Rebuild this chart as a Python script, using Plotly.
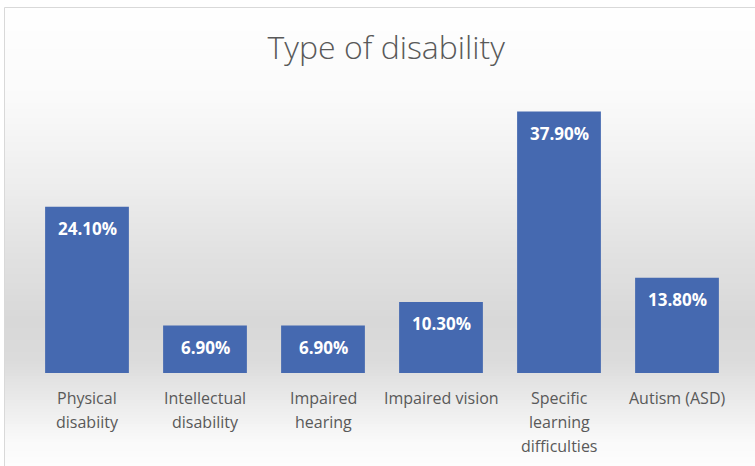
import plotly.graph_objects as go

categories = ["Physical disabiity", "Intellectual disability", "Impaired hearing",
              "Impaired vision", "Specific learning difficulties", "Autism (ASD)"]
tick_labels = [["Physical", "disabiity"], ["Intellectual", "disability"], ["Impaired", "hearing"],
               ["Impaired vision"], ["Specific", "learning", "difficulties"], ["Autism (ASD)"]]
values = [24.1, 6.9, 6.9, 10.3, 37.9, 13.8]
value_labels = ["24.10%", "6.90%", "6.90%", "10.30%", "37.90%", "13.80%"]

W, H = 755, 466
ML, MR, MT, MB = 28, 19, 97, 93
PH = H - MT - MB

FONT = "Open Sans"

fig = go.Figure()
fig.add_trace(go.Bar(
    x=categories, y=values,
    marker=dict(color="#4569b0", line=dict(width=0)),
    width=0.71,
    hoverinfo="skip",
))

annotations = []
# value labels inside bars near top
for c, v, t in zip(categories, values, value_labels):
    annotations.append(dict(x=c, y=v, xref="x", yref="y", text="<b>%s</b>" % t,
                            showarrow=False, yshift=-22, yanchor="middle",
                            font=dict(family=FONT, size=17, color="white")))
# category labels (multi-line) below baseline
for c, lines in zip(categories, tick_labels):
    for i, ln in enumerate(lines):
        annotations.append(dict(x=c, y=0, xref="x", yref="y", text=ln,
                                showarrow=False, yanchor="middle",
                                yshift=-(25 + 24 * i),
                                font=dict(family=FONT, size=16, color="#595959")))

# background gradient (styling)
stops = [(0, 255), (100, 250), (180, 238), (250, 226), (320, 216), (360, 219),
         (400, 234), (440, 249), (466, 253)]

def gray_at(py):
    for (y0, g0), (y1, g1) in zip(stops[:-1], stops[1:]):
        if y0 <= py <= y1:
            return g0 + (g1 - g0) * (py - y0) / (y1 - y0)
    return 255

def to_paper(py):
    return (H - MB - py) / PH

PW = W - ML - MR
shapes = []
step = 3
py = 7
while py < H:
    g = int(round(gray_at(py + step / 2)))
    shapes.append(dict(type="rect", xref="paper", yref="paper",
                       x0=(5 - ML) / PW, x1=(W + 5 - ML) / PW,
                       y0=to_paper(min(py + step, H + 2)), y1=to_paper(py),
                       fillcolor="rgb(%d,%d,%d)" % (g, g, g), line=dict(width=0),
                       layer="below"))
    py += step
# border
shapes.append(dict(type="rect", xref="paper", yref="paper",
                   x0=(4.5 - ML) / PW, x1=(W + 5 - ML) / PW,
                   y0=to_paper(H + 5), y1=to_paper(7.5),
                   fillcolor="rgba(0,0,0,0)", line=dict(color="#d9d9d9", width=1),
                   layer="below"))

fig.update_layout(
    width=W, height=H,
    margin=dict(l=ML, r=MR, t=MT, b=MB),
    paper_bgcolor="white",
    plot_bgcolor="rgba(0,0,0,0)",
    bargap=0.29,
    showlegend=False,
    title=dict(text="Type of disability", x=382 / W, xanchor="center",
               xref="paper",
               y=1 - 48 / H, yanchor="middle",
               font=dict(family=FONT, size=32, color="#595959", weight=300)),
    xaxis=dict(showticklabels=False, showline=False, showgrid=False, ticks="",
               zeroline=False, fixedrange=True),
    yaxis=dict(range=[0, 40], visible=False, showgrid=False, zeroline=False,
               fixedrange=True),
    shapes=shapes,
    annotations=annotations,
)

fig.write_html("out.html", config={"displayModeBar": False})
